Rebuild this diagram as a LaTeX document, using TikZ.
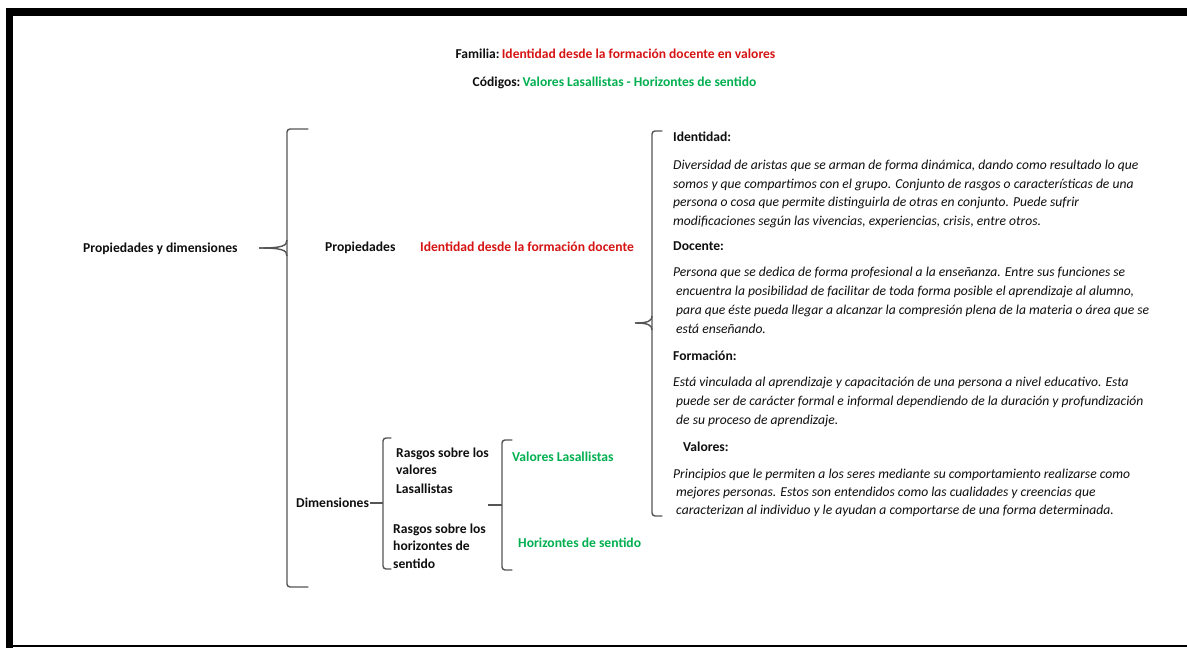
\documentclass[tikz,border=0pt]{standalone}
\usepackage{fontspec}
\setmainfont{Carlito}
\definecolor{myred}{RGB}{215,20,20}
\definecolor{mygreen}{RGB}{0,176,80}
\definecolor{bracegray}{RGB}{85,85,85}
\definecolor{txt}{RGB}{15,15,15}
\tikzset{
  lbl/.style={anchor=base west, inner sep=0pt, font=\fontsize{13.6}{16}\selectfont\bfseries, text=txt},
  desc/.style={anchor=base west, inner sep=0pt, font=\fontsize{13.6}{16}\selectfont\itshape, text=txt},
  ttl/.style={anchor=base, inner sep=0pt, font=\fontsize{13.55}{16}\selectfont\bfseries, text=txt},
  brace/.style={draw=bracegray, line width=1.4pt, rounded corners=3pt, line cap=round},
  bline/.style={draw=bracegray, line width=1.4pt},
}
\begin{document}
\begin{tikzpicture}[x=1pt,y=-1pt]
\useasboundingbox (0,0) rectangle (1187,648);
\fill[white] (0,0) rectangle (1187,648);
% frame
\fill[black] (6,8) rectangle (1187,16);
\fill[black] (6,8) rectangle (13,648);
\draw[black, line width=1.3pt] (13,646) -- (1187,646);

% titles
\node[ttl] (t1) at (615.5,58) {Familia:\,\textcolor{myred}{Identidad desde la formación docente en valores}};
\node[ttl] (t2) at (614.5,86) {Códigos:\,\textcolor{mygreen}{Valores Lasallistas - Horizontes de sentido}};

% left
\node[lbl] (pd) at (83,252.5) {Propiedades y dimensiones};
\node[lbl] (prop) at (325,251.5) {Propiedades};
\node[lbl, text=myred] (idf) at (420,251.5) {Identidad desde la formación docente};
\node[lbl] (dim) at (296,507.5) {Dimensiones};

\node[lbl] (r1a) at (396,457.5) {Rasgos sobre los};
\node[lbl] (r1b) at (396,474.5) {valores};
\node[lbl] (r1c) at (396,493.5) {Lasallistas};
\node[lbl] (r2a) at (393,533.5) {Rasgos sobre los};
\node[lbl] (r2b) at (393,550.5) {horizontes de};
\node[lbl] (r2c) at (393,568.5) {sentido};

\node[lbl, text=mygreen] (vl) at (512,461.5) {Valores Lasallistas};
\node[lbl, text=mygreen] (hs) at (518,547.5) {Horizontes de sentido};

% right column
\node[lbl] (h1) at (673,141.5) {Identidad:};
\node[desc] (d1a) at (673,169.5) {Diversidad de aristas que se arman de forma dinámica, dando como resultado lo que};
\node[desc] (d1b) at (673,188) {somos y que compartimos con el grupo. Conjunto de rasgos o características de una};
\node[desc] (d1c) at (673,206.5) {persona o cosa que permite distinguirla de otras en conjunto. Puede sufrir};
\node[desc] (d1d) at (673,225) {modificaciones según las vivencias, experiencias, crisis, entre otros.};

\node[lbl] (h2) at (673,250.5) {Docente:};
\node[desc] (d2a) at (673,276.5) {Persona que se dedica de forma profesional a la enseñanza. Entre sus funciones se};
\node[desc] (d2b) at (676,295.5) {encuentra la posibilidad de facilitar de toda forma posible el aprendizaje al alumno,};
\node[desc] (d2c) at (676,314.5) {para que éste pueda llegar a alcanzar la compresión plena de la materia o área que se};
\node[desc] (d2d) at (676,333) {está enseñando.};

\node[lbl] (h3) at (673,360.5) {Formación:};
\node[desc] (d3a) at (673,386.5) {Está vinculada al aprendizaje y capacitación de una persona a nivel educativo. Esta};
\node[desc] (d3b) at (676,405.5) {puede ser de carácter formal e informal dependiendo de la duración y profundización};
\node[desc] (d3c) at (676,424.5) {de su proceso de aprendizaje.};

\node[lbl] (h4) at (683,451.5) {Valores:};
\node[desc] (d4a) at (673,478.5) {Principios que le permiten a los seres mediante su comportamiento realizarse como};
\node[desc] (d4b) at (676,496.5) {mejores personas. Estos son entendidos como las cualidades y creencias que};
\node[desc] (d4c) at (676,514.5) {caracterizan al individuo y le ayudan a comportarse de una forma determinada.};

% brace 1 (big)
\coordinate (b1tip) at (259,248);
\draw[brace] (308,129) -- (287,129) -- (287,587) -- (308,587);
\draw[bline] (287,240) .. controls (287,246) and (282,248) .. (b1tip);
\draw[bline] (287,256) .. controls (287,250) and (282,248) .. (b1tip);

% brace 2 (right)
\coordinate (b2tip) at (635,323);
\draw[brace] (662,131) -- (652,131) -- (652,516) -- (662,516);
\draw[bline] (652,316) .. controls (652,321) and (648,323) .. (b2tip);
\draw[bline] (652,330) .. controls (652,325) and (648,323) .. (b2tip);

% brace 3 (Dimensiones)
\coordinate (b3tip) at (383,503);
\draw[brace] (391,438) -- (383,438) -- (383,569) -- (391,569);
\draw[bline] (dim.east |- b3tip) ++(1,0) -- (b3tip);

% brace 4
\coordinate (b4tip) at (488,505);
\draw[brace] (512,440) -- (502,440) -- (502,570) -- (512,570);
\draw[bline, line width=1.8pt] (b4tip) -- (502,505);
\end{tikzpicture}
\end{document}
